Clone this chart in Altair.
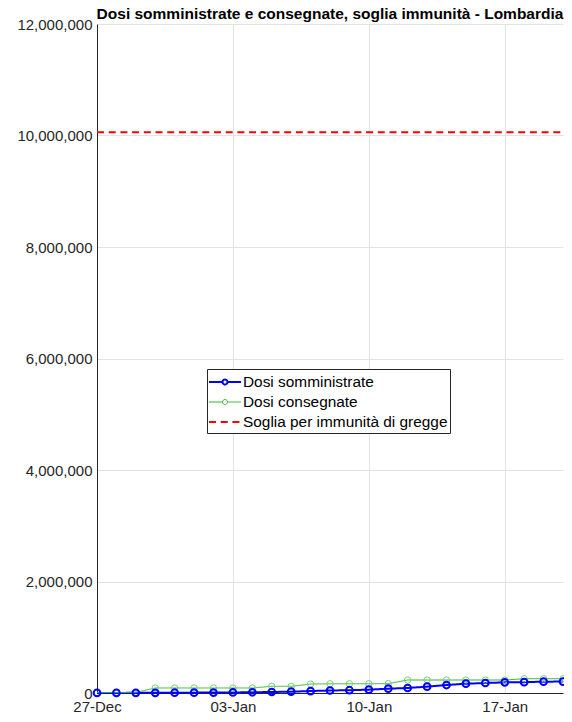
import altair as alt
import pandas as pd

dates = pd.date_range("2020-12-27", "2021-01-20", freq="D").strftime("%Y-%m-%d").tolist()
somministrate = [1000, 2000, 2500, 3500, 5000, 6500, 8000, 10000, 13000, 18000, 24000, 35000,
                 45000, 50000, 60000, 78000, 90000, 114000, 143000, 167000, 179000, 191000,
                 195000, 203000, 205000]
consegnate = [9750, 9750, 9750, 90000, 90000, 90000, 90000, 90000, 90000, 120000, 120000,
              161000, 165000, 166000, 166000, 168000, 233000, 233000, 233000, 233000, 233000,
              233000, 256000, 256000, 256000]
soglia = 10060000

series_names = ["Dosi somministrate", "Dosi consegnate", "Soglia per immunità di gregge"]
series_colors = ["#0000ff", "#2db82d", "#ff0000"]

rows = []
for d, s, c in zip(dates, somministrate, consegnate):
    rows.append({"date": d, "value": s, "series": series_names[0]})
    rows.append({"date": d, "value": c, "series": series_names[1]})
    rows.append({"date": d, "value": soglia, "series": series_names[2]})
df = pd.DataFrame(rows)

x_enc = alt.X(
    "date:T",
    scale=alt.Scale(type="utc", domain=[alt.DateTime(year=2020, month=12, date=27, utc=True),
                                        alt.DateTime(year=2021, month=1, date=20, utc=True)]),
    axis=alt.Axis(
        title=None, format="%d-%b", formatType="time",
        values=[alt.DateTime(year=2020, month=12, date=27, utc=True),
                alt.DateTime(year=2021, month=1, date=3, utc=True),
                alt.DateTime(year=2021, month=1, date=10, utc=True),
                alt.DateTime(year=2021, month=1, date=17, utc=True)],
        labelFontSize=15, labelColor="#262626", labelPadding=6, labelFlush=False,
        domainColor="#262626", ticks=False, gridColor="#e3e3e3", grid=True,
    ),
)
y_enc = alt.Y(
    "value:Q",
    scale=alt.Scale(domain=[0, 12000000], nice=False),
    axis=alt.Axis(
        title=None, format=",d", values=[0, 2000000, 4000000, 6000000, 8000000, 10000000, 12000000],
        labelFontSize=15, labelColor="#262626", labelPadding=5, labelFlush=False,
        domainColor="#262626", ticks=False, gridColor="#e3e3e3", grid=True,
    ),
)

circle_path = "M-1.6,0H-0.25M0.25,0H1.6M-0.25,0A0.25,0.25,0,1,1,0.25,0A0.25,0.25,0,1,1,-0.25,0"
legend = alt.Legend(
    title=None, orient="none", legendX=110, legendY=345,
    labelFontSize=15.4, labelColor="#000000", labelLimit=400, symbolSize=400, symbolStrokeWidth=2,
    strokeColor="#262626", fillColor="#ffffff", padding=2, rowPadding=0.5,
    symbolOffset=5, labelOffset=7,
)

color_enc = alt.Color("series:N", scale=alt.Scale(domain=series_names, range=series_colors), legend=legend)
dash_enc = alt.StrokeDash("series:N", scale=alt.Scale(type="ordinal", domain=series_names, range=[[1, 0], [1, 0], [7, 4.7]]), legend=legend)
width_enc = alt.StrokeWidth("series:N", scale=alt.Scale(type="ordinal", domain=series_names, range=[2, 1, 2]), legend=legend)
shape_enc = alt.Shape("series:N", scale=alt.Scale(domain=series_names, range=[circle_path, circle_path, "M-1.6,0H1.6"]), legend=legend)

base = alt.Chart(df)

lines = base.mark_line().encode(x=x_enc, y=y_enc, color=color_enc, strokeDash=dash_enc, strokeWidth=width_enc)

ghost = base.transform_filter("false").mark_point(filled=False, opacity=1).encode(
    x="date:T", y="value:Q", color=color_enc, shape=shape_enc, strokeDash=dash_enc, strokeWidth=width_enc
)

pts_blue = base.transform_filter(alt.datum.series == series_names[0]).mark_point(
    shape="circle", filled=False, size=45, strokeWidth=2, color="#0000ff", opacity=1
).encode(x="date:T", y="value:Q")

pts_green = base.transform_filter(alt.datum.series == series_names[1]).mark_point(
    shape="circle", filled=False, size=40, strokeWidth=1, color="#77d077", opacity=1
).encode(x="date:T", y="value:Q")

chart = alt.layer(lines, ghost, pts_green, pts_blue).properties(
    width=466, height=669,
    title=alt.TitleParams(
        "Dosi somministrate e consegnate, soglia immunità - Lombardia",
        fontSize=15.5, fontWeight="bold", font="Liberation Sans", color="#000000", anchor="middle",
        offset=0, dy=5,
    ),
    autosize=alt.AutoSizeParams(type="none"),
    padding={"left": 89, "top": 16, "right": 1, "bottom": 21},
).configure(font="Liberation Sans").configure_view(strokeWidth=0)

chart.save("out.html", embed_options={"renderer": "svg", "actions": False})
